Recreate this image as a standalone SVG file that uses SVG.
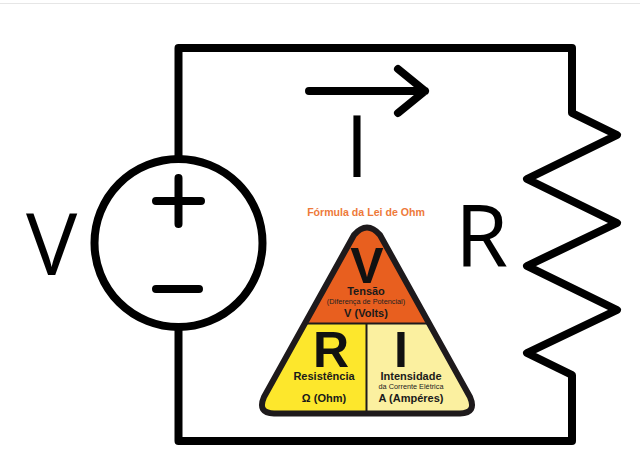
<svg xmlns="http://www.w3.org/2000/svg" width="640" height="473" viewBox="0 0 640 473">
<style>
.w{fill:none;stroke:#000;stroke-width:8;stroke-linejoin:round;stroke-linecap:round}
.l{font-family:"Open Sans","Liberation Sans",sans-serif;fill:#000}
.b{font-family:"Liberation Sans",Arial,sans-serif;font-weight:700;fill:#1a1a1a;text-anchor:middle;font-size:11px}
.g{font-family:"Liberation Sans",Arial,sans-serif;font-weight:700;fill:#111;text-anchor:middle;font-size:50px}
.s{font-family:"Liberation Sans",Arial,sans-serif;fill:#222;text-anchor:middle;font-size:7.300px}
</style>
<rect width="640" height="473" fill="#fff"/>
<rect x="0" y="3" width="640" height="1" fill="#e6e6e6"/>
<g id="connectors">
<path class="w" d="M178.500 156V48H572V113L617 135L527 179L617 223L527 266L617 310L527 353L572 375V441H178.500V330"/>
<path class="w" d="M309 91H425M398 69L425 91L398 113"/>
</g>
<g id="source">
<circle class="w" cx="178.500" cy="243" r="84"/>
<path class="w" d="M156 201H201M178.500 178V224M156 289H199"/>
<text class="l" x="26" y="275" font-size="86">V</text>
</g>
<g id="current"><text class="l" x="357" y="177" font-size="86" text-anchor="middle">I</text></g>
<g id="resistor"><text class="l" x="455" y="267" font-size="86">R</text></g>
<g id="triangle">
<text x="366" y="216" font-family="Liberation Sans,Arial,sans-serif" font-weight="700" font-size="10.600" fill="#EE7A3A" text-anchor="middle">Fórmula da Lei de Ohm</text>
<path d="M354 235Q367 220 380 235L429 323.500H305Z" fill="#E85F1F"/>
<path d="M305 323.500H366.500V413.500H274Q257 413 264 397Z" fill="#FDE72C"/>
<path d="M366.500 323.500H429L470 397Q477 413 460 413.500H366.500Z" fill="#FBF0A0"/>
<path d="M354 235Q367 220 380 235L470 397Q477 413 460 413.500H274Q257 413 264 397Z" fill="none" stroke="#1e1a1c" stroke-width="6" stroke-linejoin="round"/>
<path d="M305 323.500H429M366.500 323.500V413.500" fill="none" stroke="#1e1a1c" stroke-width="2"/>
<text class="g" x="367" y="283">V</text>
<text class="b" x="366" y="295">Tensão</text>
<text class="s" x="366" y="304">(Diferença de Potencial)</text>
<text class="b" x="366" y="317">V (Volts)</text>
<text class="g" x="331" y="367">R</text>
<text class="b" x="324" y="380">Resistência</text>
<text class="b" x="324" y="402">Ω (Ohm)</text>
<text class="g" x="401" y="367">I</text>
<text class="b" x="411" y="380">Intensidade</text>
<text class="s" x="411" y="389">da Corrente Elétrica</text>
<text class="b" x="411" y="402">A (Ampéres)</text>
</g>
</svg>
